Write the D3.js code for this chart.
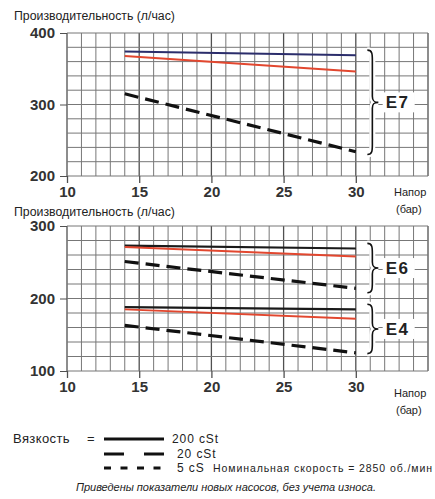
<!DOCTYPE html>
<html><head><meta charset="utf-8">
<script src="https://cdn.jsdelivr.net/npm/d3@7/dist/d3.min.js"></script>
<style>
body{margin:0;background:#fff;}
text{font-family:"Liberation Sans",Arial,sans-serif;}
</style></head>
<body>
<svg id="c" width="435" height="499"></svg>
<script>
// ---- data ----
const heads = [14, 30];                 // напор, бар
const xTicks = [10, 15, 20, 25, 30];
const yTicksTop = [200, 300, 400];
const yTicksBot = [100, 200, 300];
const e7_200 = [374, 369];
const e7_20  = [368, 346];
const e7_5   = [315, 234];
const e6_200 = [273, 269];
const e6_20  = [271, 258];
const e6_5   = [251, 214];
const e4_200 = [188, 185];
const e4_20  = [185, 172];
const e4_5   = [163, 125];
const groupLabels = ["E7", "E6", "E4"];
const legendLabels = ["200 cSt", "20 cSt", "5 cS"];

const svg = d3.select("#c");
const x = d3.scaleLinear().domain([10, 35]).range([67, 428]);
const yTop = d3.scaleLinear().domain([200, 400]).range([176, 33]);
const yBot = d3.scaleLinear().domain([100, 300]).range([371, 226]);

function grid(y, lo, hi) {
  const g = svg.append("g");
  g.selectAll("line.v").data(d3.range(10, 36)).join("line")
    .attr("x1", d => x(d)).attr("x2", d => x(d))
    .attr("y1", y(hi)).attr("y2", y(lo))
    .attr("stroke", d => d % 5 === 0 ? "#505050" : "#777")
    .attr("stroke-width", d => d % 5 === 0 ? 1.3 : 1);
  g.selectAll("line.h").data(d3.range(lo, hi + 1, 20)).join("line")
    .attr("x1", x(10)).attr("x2", x(35))
    .attr("y1", d => y(d)).attr("y2", d => y(d))
    .attr("stroke", "#777").attr("stroke-width", 1);
  const ax = svg.append("g").attr("transform", `translate(0,${y(lo)})`)
    .call(d3.axisBottom(x).tickValues(xTicks).tickSize(7).tickPadding(3).tickFormat(d3.format("d")));
  ax.select(".domain").remove();
  ax.selectAll("line").attr("stroke", "#505050").attr("stroke-width", 1.3);
  ax.selectAll("text").attr("font-size", 15).attr("font-weight", "bold").attr("fill", "#333")
    .attr("font-family", "Liberation Sans, Arial, sans-serif");
  const ay = svg.append("g").attr("transform", `translate(${x(10)},0)`)
    .call(d3.axisLeft(y).tickValues(lo === 200 ? yTicksTop : yTicksBot).tickSize(7).tickPadding(5));
  ay.select(".domain").remove();
  ay.selectAll("line").attr("stroke", "#505050");
  ay.selectAll("text").attr("font-size", 15).attr("font-weight", "bold").attr("fill", "#333")
    .attr("font-family", "Liberation Sans, Arial, sans-serif");
}
grid(yTop, 200, 400);
grid(yBot, 100, 300);

function brace(y, v1, v2, label) {
  const bx = x(30.8), y1 = y(v1), y2 = y(v2), ym = (y1 + y2) / 2, w = 5;
  const p = `M${bx},${y1} C${bx + w},${y1} ${bx + w},${y1 + 4} ${bx + w},${y1 + 10}
    L${bx + w},${ym - 6} C${bx + w},${ym - 1} ${bx + w + 2},${ym} ${bx + w + 6},${ym}
    C${bx + w + 2},${ym} ${bx + w},${ym + 1} ${bx + w},${ym + 6}
    L${bx + w},${y2 - 10} C${bx + w},${y2 - 4} ${bx + w},${y2} ${bx},${y2}`;
  svg.append("path").attr("d", p).attr("fill", "none").attr("stroke", "#fff").attr("stroke-width", 6);
  svg.append("path").attr("d", p).attr("fill", "none").attr("stroke", "#111").attr("stroke-width", 1.6);
  svg.append("rect").attr("x", x(32) - 2).attr("y", ym - 10).attr("width", 32).attr("height", 20).attr("fill", "#fff");
  svg.append("text").attr("x", x(32) + 1).attr("y", ym + 6).text(label)
    .attr("font-size", 17).attr("font-weight", "bold").attr("fill", "#222").attr("letter-spacing", 1.5);
}

const line = (y) => d3.line().x((d, i) => x(heads[i])).y(d => y(d));
function series(y, vals, color, w, dash) {
  svg.append("path").datum(vals).attr("d", line(y)).attr("fill", "none")
    .attr("stroke", color).attr("stroke-width", w).attr("stroke-dasharray", dash || null);
}
series(yTop, e7_200, "#2b2d6b", 2);
series(yTop, e7_20, "#e2472f", 2);
series(yTop, e7_5, "#111", 3.2, "14,7");
series(yBot, e6_200, "#1a1a1a", 2.2);
series(yBot, e6_20, "#e2472f", 2);
series(yBot, e6_5, "#111", 3.2, "14,7");
series(yBot, e4_200, "#1a1a1a", 2.2);
series(yBot, e4_20, "#e2472f", 2);
series(yBot, e4_5, "#111", 3.2, "14,7");

brace(yTop, 376, 230, groupLabels[0]);
brace(yBot, 276, 208, groupLabels[1]);
brace(yBot, 192, 124, groupLabels[2]);

// axis titles
const title = (yy, t) => svg.append("text").attr("x", 14).attr("y", yy).text(t).attr("font-size", 12.3).attr("fill", "#222");
title(20, "Производительность (л/час)");
title(216, "Производительность (л/час)");
const xt = (yy) => {
  svg.append("text").attr("x", 394).attr("y", yy).text("Напор").attr("font-size", 11).attr("fill", "#222");
  svg.append("text").attr("x", 396).attr("y", yy + 17).text("(бар)").attr("font-size", 11).attr("fill", "#222");
};
xt(196);
xt(397);

// legend
const lg = svg.append("g").attr("font-size", 12).attr("fill", "#222");
lg.append("text").attr("x", 13).attr("y", 443).attr("font-size", 13).attr("letter-spacing", 0.4).text("Вязкость");
lg.append("text").attr("x", 87).attr("y", 443).attr("font-size", 13).text("=");
const rows = [{y: 439, x2: 164, dash: null, tx: 172, ty: 443},
              {y: 454, x2: 164, dash: "20,20", tx: 177, ty: 458},
              {y: 468, x2: 161, dash: "7,9.5", tx: 177, ty: 472}];
rows.forEach((r, i) => {
  lg.append("line").attr("x1", 104).attr("x2", r.x2).attr("y1", r.y).attr("y2", r.y)
    .attr("stroke", "#111").attr("stroke-width", 3).attr("stroke-dasharray", r.dash);
  lg.append("text").attr("x", r.tx).attr("y", r.ty).attr("letter-spacing", 0.9).text(legendLabels[i]);
});
lg.append("text").attr("x", 213).attr("y", 472).attr("font-size", 10.5)
  .attr("textLength", 219).attr("lengthAdjust", "spacing").text("Номинальная скорость  = 2850 об./мин");
svg.append("text").attr("x", 76).attr("y", 491).attr("font-size", 11)
  .attr("textLength", 300).attr("lengthAdjust", "spacing")
  .attr("font-style", "italic").attr("fill", "#222").text("Приведены показатели новых насосов, без учета износа.");
</script>
</body></html>
